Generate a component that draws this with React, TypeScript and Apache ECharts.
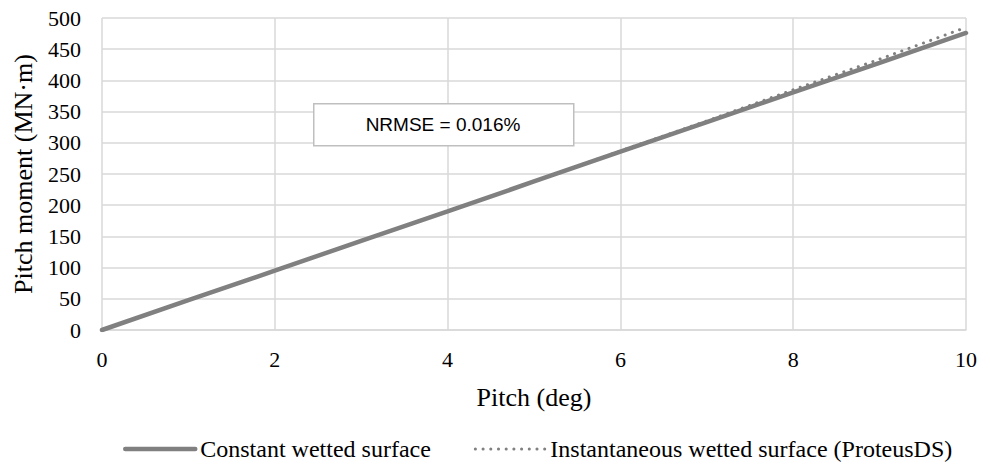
import React, { useEffect, useRef } from "react";
import * as echarts from "echarts";

// Pitch angle (deg)
const pitch = [0, 1, 2, 3, 4, 5, 6, 7, 8, 9, 10];
// Pitch moment (MN·m) with a constant wetted surface
const constantSurface = [0, 48, 95, 143, 190, 238, 286, 333, 381, 428, 476];
// Pitch moment (MN·m) with the instantaneous wetted surface from ProteusDS
const instantSurface = [0, 48, 95, 143, 190, 238, 287, 335, 385, 434, 485];

const seriesNames = [
  "Constant wetted surface",
  "Instantaneous wetted surface (ProteusDS)",
];
const xAxisTitle = "Pitch (deg)";
const yAxisTitle = "Pitch moment (MN·m)";
const annotation = "NRMSE = 0.016%";

const SERIF = "'Liberation Serif', 'Times New Roman', serif";
const SANS = "'Liberation Sans', Arial, sans-serif";
const GRID_COLOR = "#d9d9d9";
const LINE_COLOR = "#808080";

const solidStyle = { color: LINE_COLOR, width: 4.5, cap: "round" };
const dottedStyle = { color: LINE_COLOR, width: 3, type: [0.1, 7.6], cap: "round" };

export default function App() {
  const ref = useRef<HTMLDivElement>(null);

  useEffect(() => {
    if (!ref.current) return;
    const chart = echarts.init(ref.current, null, { renderer: "svg" });
    chart.setOption({
      animation: false,
      backgroundColor: "#ffffff",
      grid: { left: 102, right: 15, top: 18, bottom: 135, containLabel: false },
      xAxis: {
        type: "value",
        min: 0,
        max: 10,
        interval: 2,
        name: xAxisTitle,
        nameLocation: "middle",
        nameGap: 54,
        nameTextStyle: { fontFamily: SERIF, fontSize: 26, color: "#000" },
        axisLine: { show: true, lineStyle: { color: GRID_COLOR, width: 1.5 } },
        axisTick: { show: false },
        axisLabel: { fontFamily: SERIF, fontSize: 22, color: "#000", margin: 18 },
        splitLine: { show: true, lineStyle: { color: GRID_COLOR, width: 1.5 } },
      },
      yAxis: {
        type: "value",
        min: 0,
        max: 500,
        interval: 50,
        name: yAxisTitle,
        nameLocation: "middle",
        nameGap: 66,
        nameRotate: 90,
        nameTextStyle: { fontFamily: SERIF, fontSize: 26, color: "#000" },
        axisLine: { show: false },
        axisTick: { show: false },
        axisLabel: { fontFamily: SERIF, fontSize: 22, color: "#000", margin: 21 },
        splitLine: { show: true, lineStyle: { color: GRID_COLOR, width: 1.5 } },
      },
      legend: {
        top: 432,
        left: 118,
        itemWidth: 70,
        itemHeight: 14,
        itemGap: 43,
        itemStyle: { opacity: 0 },
        textStyle: { fontFamily: SERIF, fontSize: 24, color: "#000" },
        data: [
          { name: seriesNames[0], lineStyle: solidStyle },
          { name: seriesNames[1], lineStyle: dottedStyle },
        ],
      },
      series: [
        {
          name: seriesNames[0],
          type: "line",
          data: pitch.map((p, i) => [p, constantSurface[i]]),
          showSymbol: false,
          symbol: "none",
          lineStyle: solidStyle,
          itemStyle: { color: LINE_COLOR },
          z: 3,
        },
        {
          name: seriesNames[1],
          type: "line",
          data: pitch.map((p, i) => [p, instantSurface[i]]),
          showSymbol: false,
          symbol: "none",
          lineStyle: dottedStyle,
          itemStyle: { color: LINE_COLOR },
          z: 2,
        },
      ],
      graphic: [
        {
          type: "rect",
          left: 313,
          top: 103,
          shape: { width: 260, height: 42 },
          style: { fill: "#ffffff", stroke: "#bfbfbf", lineWidth: 1.5 },
          z: 10,
        },
        {
          type: "text",
          x: 443,
          y: 124,
          style: {
            text: annotation,
            fontFamily: SANS,
            fontSize: 19,
            fill: "#000",
            align: "center",
            verticalAlign: "middle",
          },
          z: 11,
        },
      ],
    });
    return () => chart.dispose();
  }, []);

  return (
    <div
      ref={ref}
      style={{ position: "fixed", left: 0, top: 0, width: 981, height: 465 }}
    />
  );
}
